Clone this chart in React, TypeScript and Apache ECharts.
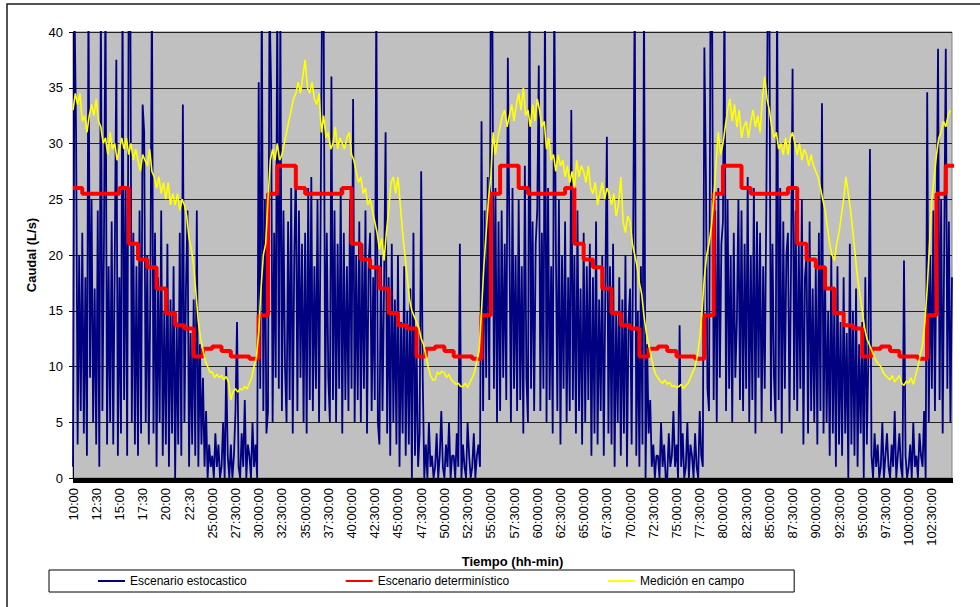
import React, { useEffect, useRef } from "react";
import * as echarts from "echarts";

// Time axis: hours since 0:00 of day 1; data start at 10:00
const START_HOUR = 10;
const END_HOUR = 104.67;

const tickLabels = [
  "10:00", "12:30", "15:00", "17:30", "20:00", "22:30",
  "25:00:00", "27:30:00", "30:00:00", "32:30:00", "35:00:00", "37:30:00",
  "40:00:00", "42:30:00", "45:00:00", "47:30:00", "50:00:00", "52:30:00",
  "55:00:00", "57:30:00", "60:00:00", "62:30:00", "65:00:00", "67:30:00",
  "70:00:00", "72:30:00", "75:00:00", "77:30:00", "80:00:00", "82:30:00",
  "85:00:00", "87:30:00", "90:00:00", "92:30:00", "95:00:00", "97:30:00",
  "100:00:00", "102:30:00",
];

// Escenario estocastico: one value every 10 minutes (6 per hour), from 10:00
const stochStepMin = 10;
const stochastic = [
  1, 42, 31, 3, 20, 6,
  22, 4, 18, 2, 44, 9,
  25, 5, 17, 3, 24, 1,
  43, 6, 21, 44, 3, 19,
  5, 23, 3, 20, 37.5, 2,
  18, 4, 43, 7, 26, 2,
  44, 45, 5, 22, 3, 19,
  2, 24, 4, 33.5, 31, 5,
  20, 3, 17, 44, 4, 22,
  1, 18, 5, 24, 2, 15,
  3, 21, 1, 16, 4, 19,
  0, 14, 3, 22, 2, 33.5,
  5, 17, 24, 1, 13, 3,
  16, 2, 24, 1, 12, 3,
  9, 1, 6, 0, 3, 1,
  2, 0, 4, 1, 3, 0,
  1, 5, 0, 10, 2, 0,
  3, 0, 2, 6, 14, 1,
  0, 4, 1, 7, 0, 3,
  2, 0, 5, 1, 3, 0,
  35.5, 8, 44, 6, 25, 4,
  6, 43, 35, 5, 22, 9,
  44, 8, 42, 6, 24, 10,
  5, 23, 7, 26, 4, 20,
  28, 6, 24, 9, 21, 5,
  22, 4, 26, 7, 27, 6,
  19, 8, 25, 5, 23, 44,
  41, 6, 22, 9, 5, 36,
  7, 24, 5, 21, 8, 26,
  4, 22, 7, 19, 6, 25,
  8, 34, 5, 20, 7, 23,
  5, 21, 8, 24, 4, 19,
  22, 6, 18, 7, 44, 5,
  3, 20, 6, 17, 31, 4,
  18, 2, 21, 5, 16, 3,
  20, 1, 14, 4, 19, 2,
  15, 3, 17, 0, 22, 2,
  12, 1, 4, 27.5, 9, 0,
  3, 0, 5, 1, 2, 0,
  1, 4, 0, 2, 6, 1,
  0, 3, 1, 5, 0, 2,
  2, 0, 4, 1, 21, 0,
  3, 1, 0, 5, 2, 0,
  1, 4, 0, 2, 3, 1,
  32, 6, 24, 9, 27, 7,
  44, 42, 8, 26, 5, 23,
  6, 24, 9, 21, 7, 37.7,
  22, 5, 26, 8, 20, 6,
  25, 7, 19, 4, 28, 9,
  5, 44, 8, 23, 6, 21,
  24, 37, 6, 22, 8, 43,
  5, 26, 7, 19, 4, 44,
  21, 6, 25, 3, 20, 8,
  23, 5, 18, 6, 33, 7,
  20, 4, 24, 6, 17, 3,
  22, 5, 19, 7, 21, 2,
  18, 4, 23, 3, 16, 6,
  20, 2, 17, 30.6, 4, 19,
  3, 21, 1, 15, 5, 18,
  2, 16, 4, 20, 1, 14,
  17, 3, 22, 44, 2, 15,
  1, 19, 3, 44, 0, 12,
  4, 7, 1, 3, 0, 2,
  2, 0, 5, 1, 3, 0,
  0, 4, 1, 2, 6, 1,
  3, 0, 13.7, 1, 4, 0,
  1, 5, 0, 3, 2, 0,
  4, 1, 0, 6, 2, 1,
  38.6, 27, 8, 6, 44, 42,
  7, 24, 5, 26, 9, 21,
  23, 44, 6, 25, 8, 20,
  5, 22, 9, 14, 25, 7,
  24, 6, 21, 8, 27, 5,
  20, 7, 26, 4, 23, 9,
  22, 5, 19, 8, 24, 44,
  43, 6, 21, 9, 5, 44,
  7, 26, 4, 23, 8, 20,
  22, 5, 19, 36.7, 7, 24,
  6, 21, 8, 25, 3, 18,
  20, 4, 23, 6, 17, 5,
  19, 3, 22, 6, 33.6, 4,
  18, 5, 15, 2, 20, 4,
  16, 1, 19, 3, 14, 2,
  18, 4, 13, 0, 21, 3,
  15, 2, 17, 1, 12, 4,
  14, 0, 18, 3, 11, 29.5,
  2, 0, 4, 1, 3, 0,
  1, 5, 0, 2, 4, 1,
  0, 3, 1, 6, 0, 2,
  4, 1, 0, 19.5, 2, 0,
  1, 3, 0, 5, 1, 2,
  0, 4, 2, 1, 6, 0,
  34.6, 5, 20, 8, 24, 6,
  22, 38.5, 7, 25, 4, 21,
  38.5, 8, 23, 5, 18,
];

// Escenario determinístico: hourly step values from 10:00 (hours 10..105)
const detStepMin = 60;
const deterministic = [
  26, 25.5, 25.5, 25.5, 25.5, 26, 21, 19.6, 18.9, 17, 14.8, 13.7, 13.4, 10.9,
  11.6, 11.8, 11.4, 10.9, 10.9, 10.7, 14.6, 25.5, 28, 28,
  26, 25.5, 25.5, 25.5, 25.5, 26, 21, 19.6, 18.9, 17, 14.8, 13.7, 13.4, 10.9,
  11.6, 11.8, 11.4, 10.9, 10.9, 10.7, 14.6, 25.5, 28, 28,
  26, 25.5, 25.5, 25.5, 25.5, 26, 21, 19.6, 18.9, 17, 14.8, 13.7, 13.4, 10.9,
  11.6, 11.8, 11.4, 10.9, 10.9, 10.7, 14.6, 25.5, 28, 28,
  26, 25.5, 25.5, 25.5, 25.5, 26, 21, 19.6, 18.9, 17, 14.8, 13.7, 13.4, 10.9,
  11.6, 11.8, 11.4, 10.9, 10.9, 10.7, 14.6, 25.5, 28, 28,
];

// Medición en campo: one value every 15 minutes from 10:00
const measStepMin = 15;
const measured = [
  33, 34.5, 33.5, 34.5,
  32, 32.5, 31, 32.5,
  33.5, 32.5, 34, 32,
  31.5, 30, 30.5, 29,
  31, 29.5, 30, 28.5,
  29.5, 30.5, 29.5, 30.5,
  29, 30, 28.5, 29.5,
  28.5, 27.5, 29, 28.5,
  28, 29.5, 27.5, 27,
  26, 27, 25.5, 26.5,
  25, 26.5, 24.5, 25.5,
  24.5, 25.5, 24, 25,
  24.5, 23.5, 21.5, 20.5,
  19, 16.5, 14, 12.5,
  11.5, 10.5, 10, 9.5,
  9.5, 9, 9.3, 9,
  9.2, 8.8, 9.1, 8.6,
  7, 7.8, 8, 7.7,
  8, 7.9, 8.2, 8,
  8.5, 9, 10, 10.8,
  13, 17, 20, 21,
  25, 28.5, 29.5, 28.5,
  30, 28.5, 29, 30,
  31, 32, 33, 34,
  34.5, 35.5, 34.5, 36,
  37.5, 35, 34.5, 35.5,
  34, 33.5, 34.5, 31,
  32.5, 30.5, 31, 29.5,
  30, 31.5, 29.5, 30.5,
  30, 29.5, 30.5, 31,
  29, 28.5, 27.5, 26.5,
  27, 25.5, 26, 24.5,
  25, 24, 23, 22,
  20.5, 21.5, 19.5, 22,
  24, 26.5, 27, 25.5,
  27, 24.5, 22, 20,
  18, 16, 15, 14.5,
  14, 13.5, 12.5, 12,
  11, 10, 9.2, 8.8,
  8.8, 9.5, 9.3, 9.6,
  9.4, 9.0, 9.3, 8.8,
  8.6, 8.4, 8.5, 8.2,
  8.2, 8.5, 8.1, 8.6,
  9, 9.5, 10.5, 11.5,
  15, 19, 22, 25,
  27, 31, 29, 30.5,
  31.5, 32.5, 33, 31.5,
  32.5, 33.5, 32, 33.5,
  34.5, 33, 35, 32.5,
  33, 31.5, 33.5, 32,
  34, 33, 31.5, 32,
  29.5, 30.5, 28.5, 29,
  27.5, 29, 28, 28.5,
  27, 28, 26.5, 27.5,
  26, 28.5, 27, 28,
  27.5, 26.5, 28, 26,
  25.5, 26.5, 24.5, 25.5,
  26.5, 25, 26, 25.5,
  24.5, 25.5, 23.5, 24.5,
  27, 23, 22, 23.5,
  23, 21, 20, 19,
  17.5, 16.5, 14.5, 13,
  12, 11, 10, 9.3,
  9, 8.7, 8.5, 8.8,
  8.4, 8.6, 8.2, 8.3,
  8.1, 8.2, 8.4, 8.0,
  8.3, 8.5, 9.0, 9.5,
  10, 11, 12.5, 15,
  18, 20, 21, 22.5,
  25, 28, 31, 29,
  30, 31.5, 33, 34,
  32, 33.5, 31.5, 33,
  30.5, 31.5, 32, 30.5,
  32, 33, 31.5, 32.5,
  31, 34, 36, 34,
  33, 31.5, 30.5, 31,
  29.5, 30, 29, 30.5,
  29, 30.5, 31, 30,
  29, 30, 28.5, 29.5,
  29, 28, 29, 28,
  27.5, 27, 26, 25,
  24, 22.5, 21, 20,
  19.5, 21, 22, 23.5,
  25, 27, 25.5, 24,
  22, 20, 18, 16.5,
  15, 13.5, 12.5, 12,
  11.5, 11, 10.5, 10.2,
  10, 9.5, 9.2, 9,
  8.8, 9.2, 8.6, 8.9,
  9.2, 8.5, 8.3, 8.7,
  8.5, 9, 8.4, 9.2,
  10, 11, 12, 14,
  17, 21, 25, 27,
  29, 30.5, 31, 32,
  31.5, 32.5, 33,
];

const seriesNames = ["Escenario estocastico", "Escenario determinístico", "Medición en campo"];

const toPairs = (vals: number[], stepMin: number) =>
  vals.map((v, i) => [START_HOUR + (i * stepMin) / 60, v]);

const FONT = '"Liberation Sans", Arial, Helvetica, sans-serif';

export default function App() {
  const ref = useRef<HTMLDivElement>(null);
  useEffect(() => {
    if (!ref.current) return;
    const chart = echarts.init(ref.current, null, { renderer: "svg" });
    chart.setOption({
      animation: false,
      backgroundColor: "#ffffff",
      textStyle: { fontFamily: FONT },
      graphic: [
        {
          type: "rect",
          silent: true,
          z: -10,
          shape: { x: 7, y: 4, width: 1000, height: 700 },
          style: { fill: "none", stroke: "#1a1a1a", lineWidth: 1.5 },
        },
      ],
      grid: {
        left: 73,
        top: 32,
        right: 28,
        bottom: 129,
        show: true,
        backgroundColor: "#C0C0C0",
        borderColor: "#808080",
        borderWidth: 1,
      },
      legend: {
        left: 49,
        top: 570,
        orient: "horizontal",
        padding: [5, 50, 5, 48],
        itemGap: 98,
        itemWidth: 27,
        itemHeight: 12,
        borderColor: "#000",
        borderWidth: 1,
        itemStyle: { color: "rgba(0,0,0,0)", borderWidth: 0, opacity: 0 },
        textStyle: { fontFamily: FONT, fontSize: 12, color: "#000" },
        data: seriesNames,
      },
      xAxis: {
        type: "value",
        min: START_HOUR,
        max: END_HOUR,
        interval: 2.5,
        name: "Tiempo (hh-min)",
        nameLocation: "middle",
        nameGap: 77,
        nameTextStyle: { fontFamily: FONT, fontSize: 13, fontWeight: "bold", color: "#000" },
        axisLine: { show: true, onZero: false, lineStyle: { color: "#000", width: 1 } },
        axisTick: { show: true, length: 5, lineStyle: { color: "#000", width: 1 } },
        minorTick: { show: true, splitNumber: 25, length: 5, lineStyle: { color: "#000", width: 1 } },
        splitLine: { show: false },
        axisLabel: {
          rotate: 90,
          margin: 10,
          fontFamily: FONT,
          fontSize: 13,
          color: "#000",
          formatter: (v: number) => {
            const idx = (v - START_HOUR) / 2.5;
            const r = Math.round(idx);
            if (Math.abs(idx - r) > 1e-6 || r < 0 || r >= tickLabels.length) return "";
            return tickLabels[r];
          },
        },
      },
      yAxis: {
        type: "value",
        min: 0,
        max: 40,
        interval: 5,
        name: "Caudal (L/s)",
        nameLocation: "middle",
        nameGap: 31,
        nameTextStyle: { fontFamily: FONT, fontSize: 13, fontWeight: "bold", color: "#000" },
        axisLine: { show: true, lineStyle: { color: "#000", width: 1 } },
        axisTick: { show: true, length: 4, lineStyle: { color: "#000" } },
        axisLabel: { margin: 10, fontFamily: FONT, fontSize: 13, color: "#000" },
        splitLine: { show: true, lineStyle: { color: "#222", width: 1 } },
      },
      series: [
        {
          name: seriesNames[0],
          type: "line",
          symbol: "none",
          showSymbol: false,
          clip: true,
          lineStyle: { color: "#000080", width: 1.8 },
          itemStyle: { color: "#000080" },
          data: toPairs(stochastic, stochStepMin),
        },
        {
          name: seriesNames[1],
          type: "line",
          step: "end",
          symbol: "none",
          showSymbol: false,
          clip: true,
          lineStyle: { color: "#FF0000", width: 4 },
          itemStyle: { color: "#FF0000" },
          data: toPairs(deterministic, detStepMin),
        },
        {
          name: seriesNames[2],
          type: "line",
          symbol: "none",
          showSymbol: false,
          clip: true,
          lineStyle: { color: "#FFFF00", width: 1.6 },
          itemStyle: { color: "#FFFF00" },
          data: toPairs(measured, measStepMin),
        },
      ],
    });
    return () => chart.dispose();
  }, []);
  return (
    <div
      ref={ref}
      style={{ position: "absolute", left: 0, top: 0, width: 980, height: 607 }}
    />
  );
}
